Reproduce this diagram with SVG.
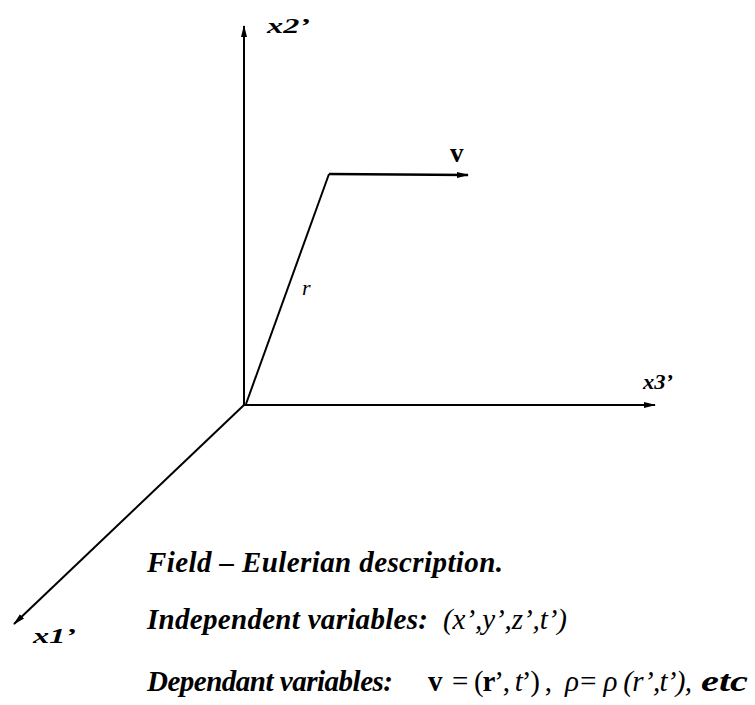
<svg xmlns="http://www.w3.org/2000/svg" width="755" height="705" viewBox="0 0 755 705">
<style>
.ax{stroke:#000;stroke-width:2;fill:none}
.lbl{font-family:"Liberation Serif",serif;font-style:italic;font-weight:bold;fill:#000}
.txt{font-family:"Liberation Serif",serif;font-style:italic;font-weight:bold;font-size:29px;fill:#000}
.nb{font-weight:normal}
.up{font-style:normal}
</style>
<defs>
<marker id="ah" markerWidth="12" markerHeight="8" refX="11" refY="4" orient="auto" markerUnits="userSpaceOnUse">
<path d="M0,1 L12,4 L0,7 Z" fill="#000"/>
</marker>
</defs>
<rect width="755" height="705" fill="#fff"/>
<g id="connectors">
<line class="ax" x1="244" y1="405" x2="244" y2="26" marker-end="url(#ah)"/>
<line class="ax" x1="244" y1="405" x2="655" y2="405" marker-end="url(#ah)"/>
<line class="ax" x1="244" y1="405" x2="14" y2="624" marker-end="url(#ah)"/>
<line class="ax" x1="246" y1="404" x2="329" y2="174"/>
<line class="ax" x1="329" y1="174" x2="468" y2="175" marker-end="url(#ah)" style="stroke-width:2.5"/>
</g>
<g id="x2-label"><text class="lbl" x="267" y="33" font-size="21" textLength="43" lengthAdjust="spacingAndGlyphs">x2’</text></g>
<g id="x3-label"><text class="lbl" x="643" y="389" font-size="21" textLength="30" lengthAdjust="spacingAndGlyphs">x3’</text></g>
<g id="x1-label"><text class="lbl" x="33" y="643" font-size="22" textLength="43" lengthAdjust="spacingAndGlyphs">x1’</text></g>
<g id="v-label"><text x="450" y="162" font-family="Liberation Serif,serif" font-weight="bold" font-size="27">v</text></g>
<g id="r-label"><text class="lbl nb" x="302" y="295" font-size="22">r</text></g>
<g id="caption">
<text class="txt" x="147" y="572" textLength="356">Field – Eulerian description.</text>
<text class="txt" x="147" y="629" textLength="281">Independent variables:</text>
<text class="txt nb" x="443" y="629" textLength="124">(x’,y’,z’,t’)</text>
<text class="txt" x="147" y="691" textLength="246">Dependant variables:</text>
<text class="txt up" x="428" y="691">v</text>
<text class="txt up nb" x="452" y="691">=</text>
<text class="txt up nb" x="474" y="691" textLength="78">(<tspan font-weight="bold">r</tspan>’, <tspan font-style="italic">t</tspan>’) ,</text>
<text class="txt nb" x="565" y="691" textLength="127">ρ= ρ (r’,t’),</text>
<text class="txt" x="701" y="691" textLength="47" lengthAdjust="spacingAndGlyphs">etc</text>
</g>
</svg>
